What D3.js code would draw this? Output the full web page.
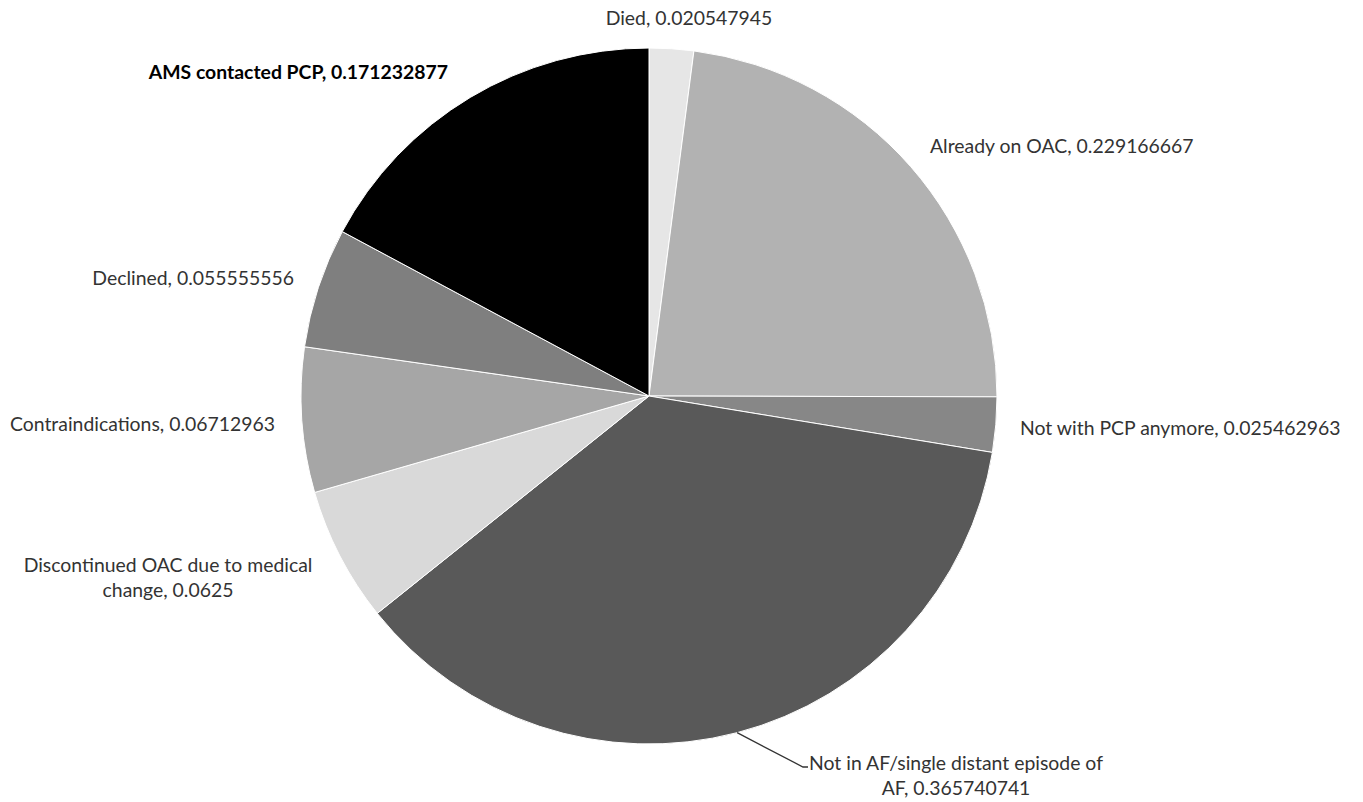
<!DOCTYPE html>
<html>
<head>
<meta charset="utf-8">
<script src="https://cdn.jsdelivr.net/npm/d3@7"></script>
<style>
  html, body { margin: 0; padding: 0; background: #fff; }
  svg { display: block; }
  text { font-family: Lato, "Open Sans", sans-serif; font-size: 19.4px; fill: #333; }
</style>
</head>
<body>
<svg id="chart" width="1363" height="802"></svg>
<script>
// Outcome categories, clockwise from 12 o'clock
const categories = [
  "Died",
  "Already on OAC",
  "Not with PCP anymore",
  "Not in AF/single distant episode of AF",
  "Discontinued OAC due to medical change",
  "Contraindications",
  "Declined",
  "AMS contacted PCP"
];
const values = [
  0.020547945,
  0.229166667,
  0.025462963,
  0.365740741,
  0.0625,
  0.06712963,
  0.055555556,
  0.171232877
];
const valueLabels = [
  "0.020547945",
  "0.229166667",
  "0.025462963",
  "0.365740741",
  "0.0625",
  "0.06712963",
  "0.055555556",
  "0.171232877"
];
const fills = ["#e6e6e6", "#b2b2b2", "#878787", "#595959", "#d9d9d9", "#a6a6a6", "#7f7f7f", "#000000"];

const svg = d3.select("#chart");
const cx = 649, cy = 396, radius = 348;

const pie = d3.pie().sort(null).value(d => d);
const arcs = pie(values);
const arc = d3.arc().innerRadius(0).outerRadius(radius);

const g = svg.append("g").attr("transform", `translate(${cx},${cy})`);
g.selectAll("path.slice")
  .data(arcs)
  .join("path")
  .attr("class", "slice")
  .attr("d", arc)
  .attr("fill", (d, i) => fills[i])
  .attr("stroke", "#fff")
  .attr("stroke-width", 1);

// Label placement: lines of text, anchor and position of the first baseline
const labelLayout = [
  { lines: [`${categories[0]}, ${valueLabels[0]}`], x: 689, y: 25, anchor: "middle" },
  { lines: [`${categories[1]}, ${valueLabels[1]}`], x: 930, y: 153, anchor: "start" },
  { lines: [`${categories[2]}, ${valueLabels[2]}`], x: 1020, y: 435, anchor: "start" },
  { lines: ["Not in AF/single distant episode of", `AF, ${valueLabels[3]}`], x: 956, y: 770, anchor: "middle" },
  { lines: ["Discontinued OAC due to medical", `change, ${valueLabels[4]}`], x: 168, y: 572, anchor: "middle" },
  { lines: [`${categories[5]}, ${valueLabels[5]}`], x: 275, y: 431, anchor: "end" },
  { lines: [`${categories[6]}, ${valueLabels[6]}`], x: 294, y: 285, anchor: "end" },
  { lines: [`${categories[7]}, ${valueLabels[7]}`], x: 448, y: 79, anchor: "end", bold: true }
];

labelLayout.forEach(L => {
  const t = svg.append("text")
    .attr("x", L.x).attr("y", L.y)
    .attr("text-anchor", L.anchor)
    .style("font-weight", L.bold ? "bold" : "normal")
    .style("fill", L.bold ? "#000" : "#333");
  L.lines.forEach((s, j) => {
    t.append("tspan").attr("x", L.x).attr("dy", j === 0 ? 0 : 25).text(s);
  });
});

// Leader line from the middle of the largest slice's rim to its label
const big = arcs[3];
const ang = 0.5 * (big.startAngle + big.endAngle);
const px = cx + Math.sin(ang) * radius, py = cy - Math.cos(ang) * radius;
svg.append("path")
  .attr("d", `M${px},${py} L803,767 L808,767`)
  .attr("fill", "none")
  .attr("stroke", "#333")
  .attr("stroke-width", 1.3);
</script>
</body>
</html>
